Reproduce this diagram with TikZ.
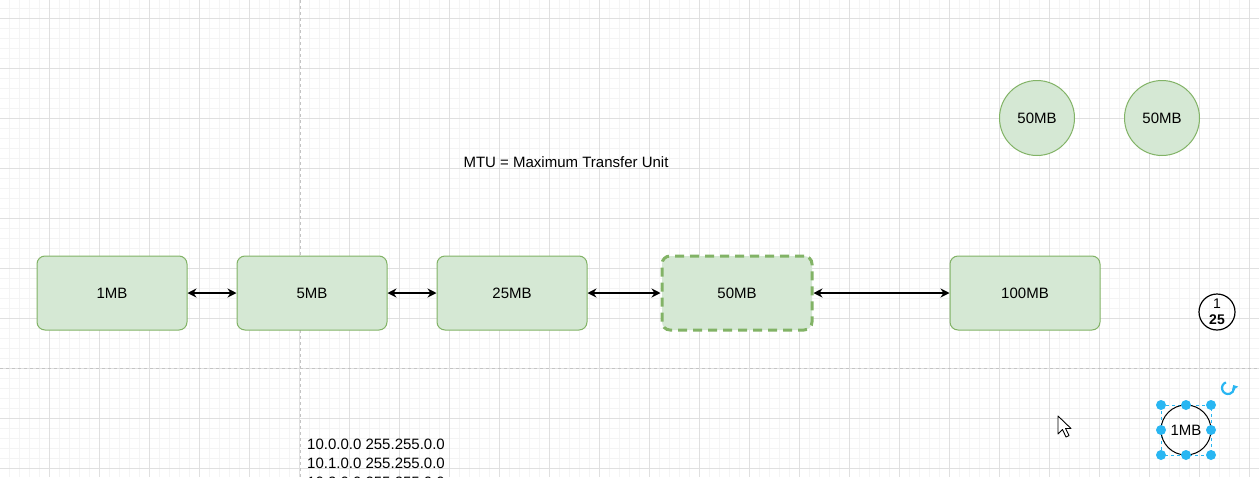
\documentclass[tikz,border=0pt]{standalone}
\usepackage{fontspec}
\setmainfont{Liberation Sans}
\usetikzlibrary{positioning,arrows.meta}
\definecolor{boxfill}{HTML}{D5E8D4}
\definecolor{boxline}{HTML}{82B366}
\definecolor{selblue}{HTML}{29B6F2}
\definecolor{minorgrid}{HTML}{F4F4F4}
\definecolor{majorgrid}{HTML}{E0E0E0}
\definecolor{guide}{HTML}{C4C4C4}

\tikzset{
    mbbox/.style={draw=boxline, fill=boxfill, line width=1, rounded corners=8,
        minimum width=150, minimum height=74, font=\fontsize{15}{18}\selectfont},
    mbdash/.style={mbbox, line width=3, dash pattern=on 9 off 6},
    mbcirc/.style={circle, draw=boxline, fill=boxfill, line width=1,
        minimum size=75, font=\fontsize{15}{18}\selectfont},
    handle/.style={circle, fill=selblue, inner sep=0, minimum size=10},
    link/.style={<->, line width=1.3}
}

\begin{document}
\begin{tikzpicture}[x=1pt,y=-1pt,>={Stealth[length=9,width=9]}]
\useasboundingbox (0,0) rectangle (1259,477);
\clip (0,0) rectangle (1259,477);
\fill[white] (0,0) rectangle (1259,477);
% grid
\foreach \x in {-0.7,9.3,...,1260} \draw[minorgrid] (\x,0) -- (\x,477);
\foreach \y in {-1.7,8.3,...,478} \draw[minorgrid] (0,\y) -- (1259,\y);
\foreach \x in {49.3,99.3,...,1260} \draw[majorgrid] (\x,0) -- (\x,477);
\foreach \y in {18.3,68.3,...,478} \draw[majorgrid] (0,\y) -- (1259,\y);
\draw[guide, dashed] (300,0) -- (300,477);
\draw[guide, dashed] (0,368) -- (1259,368);

% boxes
\node[mbbox] (one) at (112,293) {1MB};
\node[mbbox, right=49 of one] (five) {5MB};
\node[mbbox, right=49 of five] (twentyfive) {25MB};
\node[mbdash, right=73 of twentyfive] (fifty) {50MB};
\node[mbbox, right=136 of fifty] (hundred) {100MB};

\draw[link] (one) -- (five);
\draw[link] (five) -- (twentyfive);
\draw[link] (twentyfive) -- (fifty);
\draw[link] (fifty) -- (hundred);

\node[mbcirc] (circa) at (1037,118) {50MB};
\node[mbcirc] (circb) at (1162,118) {50MB};

\node[font=\fontsize{15}{18}\selectfont] (mtu) at (566,162) {MTU = Maximum Transfer Unit};

% small counter
\node[circle, draw, line width=1.2, minimum size=36, inner sep=0,
      font=\fontsize{14}{17}\selectfont, align=center] (count) at (1217,312)
      {1\\[-1pt]\textbf{25}};

% selected circle
\draw[selblue, dashed, line width=0.8] (1161,405) rectangle (1211,455);
\node[circle, draw, line width=1, minimum size=50, inner sep=0,
      font=\fontsize{15}{18}\selectfont] (small) at (1186,430) {1MB};
\foreach \hx/\hy in {1161/405,1186/405,1211/405,1161/430,1211/430,1161/455,1186/455,1211/455}
    \node[handle] at (\hx,\hy) {};
\draw[selblue, line width=2.2, -{Triangle[length=4,width=7]}]
      (1228,388) ++(250:6) arc[start angle=250, end angle=-30, radius=6];

% cursor
\draw[fill=white, line width=0.9, line join=round]
      (1058,416) -- (1058,434) -- (1062.5,429.5) -- (1066,437) -- (1069,435.5)
      -- (1065.5,428.5) -- (1071,428.5) -- cycle;

% address list
\node[anchor=north west, align=left, inner sep=0,
      font=\fontsize{15}{19}\selectfont] (addr) at (307,439)
      {10.0.0.0 255.255.0.0\\10.1.0.0 255.255.0.0\\10.2.0.0 255.255.0.0};
\end{tikzpicture}
\end{document}
